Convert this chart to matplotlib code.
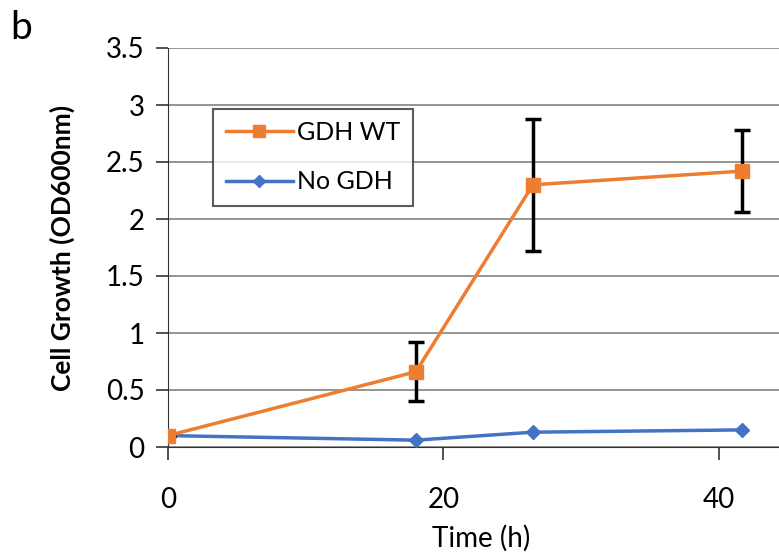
import matplotlib.pyplot as plt
from matplotlib.lines import Line2D
import numpy as np

plt.rcParams['font.family'] = ['Lato', 'DejaVu Sans']

# time points (h)
time_h = [0, 18, 26.5, 41.7]

# GDH WT growth and error
gdh_wt = [0.10, 0.66, 2.30, 2.42]
gdh_wt_err = [0, 0.26, 0.58, 0.36]

# No GDH growth
no_gdh = [0.10, 0.06, 0.13, 0.15]

orange = '#ED7D31'
blue = '#4472C4'

fig = plt.figure(figsize=(7.79, 5.56), dpi=100)
ax = fig.add_axes([168 / 779, 109 / 556, 1.02 - 168 / 779, 399 / 556])

ax.plot(time_h, no_gdh, '-D', color=blue, lw=2.5, ms=7, zorder=3)
ax.errorbar(time_h, gdh_wt, yerr=gdh_wt_err, fmt='-s', color=orange, lw=2.5, ms=10,
            ecolor='black', elinewidth=2.5, capsize=6, capthick=2.5, zorder=4)

ax.set_xlim(0, 45.5)
ax.set_ylim(0, 3.5)
ax.set_xticks([0, 20, 40])
ax.set_yticks(np.arange(0, 3.6, 0.5))
ax.set_yticklabels(['0', '0.5', '1', '1.5', '2', '2.5', '3', '3.5'])
ax.yaxis.grid(True, color='#8c8c8c', lw=1.3)
ax.set_axisbelow(True)
for s in ['top', 'right']:
    ax.spines[s].set_visible(False)
ax.spines['left'].set_color('#333333')
ax.spines['bottom'].set_color('#333333')
ax.tick_params(axis='both', direction='out', length=9, width=1.2, color='#333333',
               labelsize=20, pad=8)
ax.tick_params(axis='x', pad=20)

ax.set_xlabel('Time (h)', fontsize=20, labelpad=8)
ax.set_ylabel('Cell Growth (OD600nm)', fontsize=19, fontweight='bold', labelpad=22)

handles = [Line2D([], [], color=orange, marker='s', lw=2.5, ms=9),
           Line2D([], [], color=blue, marker='D', lw=2.5, ms=6)]
leg = ax.legend(handles, ['GDH WT', 'No GDH'], loc='upper left', bbox_to_anchor=(0.072, 0.848),
                fontsize=18, frameon=True, fancybox=False, edgecolor='#333333',
                borderpad=0.5, labelspacing=1.05, handlelength=2.7, handletextpad=0.15,
                borderaxespad=0)
leg.get_frame().set_linewidth(1.5)

fig.text(10 / 779, 1 - 28 / 556, 'b', fontsize=28, va='center')

plt.savefig('out.png', dpi=100)
